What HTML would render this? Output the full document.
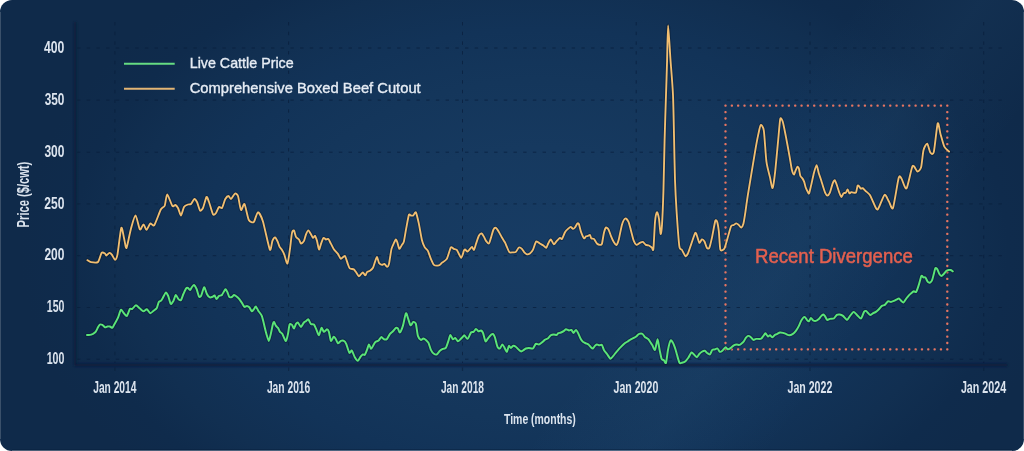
<!DOCTYPE html>
<html><head><meta charset="utf-8"><title>Live Cattle Price vs Comprehensive Boxed Beef Cutout</title>
<style>
html,body{margin:0;padding:0;background:#ffffff;width:1024px;height:451px;overflow:hidden}
svg{display:block}
.cl{font-family:"Liberation Sans",Arial,sans-serif;font-weight:bold;fill:#dce4ee}
.lg{font-family:"Liberation Sans",Arial,sans-serif;fill:#e6ecf4}
</style></head><body>
<svg width="1024" height="451" viewBox="0 0 1024 451">
<defs>
<radialGradient id="bg" cx="540" cy="250" r="520" gradientUnits="userSpaceOnUse" gradientTransform="translate(540 250) scale(1 0.654) translate(-540 -250)">
<stop offset="0" stop-color="#173c64"/>
<stop offset="0.3" stop-color="#16395f"/>
<stop offset="0.5" stop-color="#14365b"/>
<stop offset="0.65" stop-color="#123358"/>
<stop offset="0.8" stop-color="#112f51"/>
<stop offset="0.9" stop-color="#0f2b4c"/>
<stop offset="1" stop-color="#0f2a4a"/>
</radialGradient>
<linearGradient id="band" gradientUnits="userSpaceOnUse" x1="734" y1="166" x2="894" y2="285">
<stop offset="0" stop-color="#5aa0d0" stop-opacity="0"/>
<stop offset="0.5" stop-color="#5aa0d0" stop-opacity="0.05"/>
<stop offset="1" stop-color="#5aa0d0" stop-opacity="0"/>
</linearGradient>
<filter id="soft" x="-5%" y="-5%" width="110%" height="110%"><feGaussianBlur stdDeviation="0.8"/></filter>
</defs>
<rect x="0" y="0" width="1024" height="451" rx="12" ry="12" fill="url(#bg)"/>
<rect x="0" y="0" width="1024" height="451" rx="12" ry="12" fill="url(#band)"/>
<line x1="0.5" y1="12" x2="0.5" y2="439" stroke="#ffffff" stroke-opacity="0.18"/>
<line x1="1023.5" y1="12" x2="1023.5" y2="439" stroke="#ffffff" stroke-opacity="0.18"/>
<line x1="12" y1="450.5" x2="1012" y2="450.5" stroke="#ffffff" stroke-opacity="0.25"/>
<line x1="12" y1="449.5" x2="1012" y2="449.5" stroke="#08203e" stroke-opacity="0.5"/>
<g stroke="#0a1f3c" stroke-opacity="0.75" stroke-width="1" stroke-dasharray="3.4 6.3"><line x1="77" y1="48.0" x2="1007" y2="48.0"/><line x1="77" y1="100.1" x2="1007" y2="100.1"/><line x1="77" y1="152.2" x2="1007" y2="152.2"/><line x1="77" y1="203.9" x2="1007" y2="203.9"/><line x1="77" y1="255.7" x2="1007" y2="255.7"/><line x1="77" y1="307.5" x2="1007" y2="307.5"/><line x1="77" y1="359.2" x2="1007" y2="359.2"/><line x1="114.9" y1="22" x2="114.9" y2="363"/><line x1="288.6" y1="22" x2="288.6" y2="363"/><line x1="462.5" y1="22" x2="462.5" y2="363"/><line x1="636.2" y1="22" x2="636.2" y2="363"/><line x1="810.0" y1="22" x2="810.0" y2="363"/><line x1="983.7" y1="22" x2="983.7" y2="363"/></g>
<g stroke="#0a1f3b" stroke-width="2.5" filter="url(#soft)"><line x1="75.2" y1="22" x2="75.2" y2="366"/><line x1="74" y1="365.1" x2="1007.5" y2="365.1"/></g>
<g stroke="#0a1f3b" stroke-opacity="0.6" stroke-width="1.2"><line x1="114.9" y1="367.5" x2="114.9" y2="371"/><line x1="288.6" y1="367.5" x2="288.6" y2="371"/><line x1="462.5" y1="367.5" x2="462.5" y2="371"/><line x1="636.2" y1="367.5" x2="636.2" y2="371"/><line x1="810.0" y1="367.5" x2="810.0" y2="371"/><line x1="983.7" y1="367.5" x2="983.7" y2="371"/></g>
<text class="cl" x="64.4" y="52.9" font-size="15.6" text-anchor="end" textLength="20.4" lengthAdjust="spacingAndGlyphs">400</text>
<text class="cl" x="64.4" y="105.0" font-size="15.6" text-anchor="end" textLength="19.7" lengthAdjust="spacingAndGlyphs">350</text>
<text class="cl" x="64.4" y="156.8" font-size="15.6" text-anchor="end" textLength="20.0" lengthAdjust="spacingAndGlyphs">300</text>
<text class="cl" x="64.4" y="208.6" font-size="15.6" text-anchor="end" textLength="20.1" lengthAdjust="spacingAndGlyphs">250</text>
<text class="cl" x="64.4" y="260.4" font-size="15.6" text-anchor="end" textLength="20.0" lengthAdjust="spacingAndGlyphs">200</text>
<text class="cl" x="64.4" y="312.4" font-size="15.6" text-anchor="end" textLength="17.6" lengthAdjust="spacingAndGlyphs">150</text>
<text class="cl" x="64.4" y="364.0" font-size="15.6" text-anchor="end" textLength="17.7" lengthAdjust="spacingAndGlyphs">100</text>
<text class="cl" x="93.2" y="393.0" font-size="15.6" textLength="43.2" lengthAdjust="spacingAndGlyphs">Jan 2014</text>
<text class="cl" x="266.9" y="393.0" font-size="15.6" textLength="43.4" lengthAdjust="spacingAndGlyphs">Jan 2016</text>
<text class="cl" x="440.9" y="393.0" font-size="15.6" textLength="43.1" lengthAdjust="spacingAndGlyphs">Jan 2018</text>
<text class="cl" x="613.5" y="393.0" font-size="15.6" textLength="44.8" lengthAdjust="spacingAndGlyphs">Jan 2020</text>
<text class="cl" x="787.5" y="393.0" font-size="15.6" textLength="44.8" lengthAdjust="spacingAndGlyphs">Jan 2022</text>
<text class="cl" x="960.9" y="393.0" font-size="15.6" textLength="45.2" lengthAdjust="spacingAndGlyphs">Jan 2024</text>
<text class="cl" x="504.0" y="423.9" font-size="15.2" textLength="71.8" lengthAdjust="spacingAndGlyphs">Time (months)</text>
<text class="cl" transform="translate(28.9 227.4) rotate(-90)" x="0" y="0" font-size="15.6" textLength="65.7" lengthAdjust="spacingAndGlyphs">Price ($/cwt)</text>
<line x1="124" y1="63.7" x2="174.7" y2="63.7" stroke="#66dc82" stroke-width="2"/>
<line x1="124" y1="88.7" x2="174.7" y2="88.7" stroke="#e3b574" stroke-width="2"/>
<text class="lg" stroke="#e6ecf4" stroke-width="0.35" x="189.7" y="68.3" font-size="14.3" textLength="104" lengthAdjust="spacingAndGlyphs">Live Cattle Price</text>
<text class="lg" stroke="#e6ecf4" stroke-width="0.35" x="189.7" y="93.3" font-size="14.3" textLength="231" lengthAdjust="spacingAndGlyphs">Comprehensive Boxed Beef Cutout</text>
<g fill="#e57562"><rect x="724.35" y="104.50" width="2.3" height="2.3" rx="0.8"/><rect x="724.35" y="348.25" width="2.3" height="2.3" rx="0.8"/><rect x="730.69" y="104.50" width="2.3" height="2.3" rx="0.8"/><rect x="730.69" y="348.25" width="2.3" height="2.3" rx="0.8"/><rect x="737.02" y="104.50" width="2.3" height="2.3" rx="0.8"/><rect x="737.02" y="348.25" width="2.3" height="2.3" rx="0.8"/><rect x="743.36" y="104.50" width="2.3" height="2.3" rx="0.8"/><rect x="743.36" y="348.25" width="2.3" height="2.3" rx="0.8"/><rect x="749.70" y="104.50" width="2.3" height="2.3" rx="0.8"/><rect x="749.70" y="348.25" width="2.3" height="2.3" rx="0.8"/><rect x="756.04" y="104.50" width="2.3" height="2.3" rx="0.8"/><rect x="756.04" y="348.25" width="2.3" height="2.3" rx="0.8"/><rect x="762.37" y="104.50" width="2.3" height="2.3" rx="0.8"/><rect x="762.37" y="348.25" width="2.3" height="2.3" rx="0.8"/><rect x="768.71" y="104.50" width="2.3" height="2.3" rx="0.8"/><rect x="768.71" y="348.25" width="2.3" height="2.3" rx="0.8"/><rect x="775.05" y="104.50" width="2.3" height="2.3" rx="0.8"/><rect x="775.05" y="348.25" width="2.3" height="2.3" rx="0.8"/><rect x="781.38" y="104.50" width="2.3" height="2.3" rx="0.8"/><rect x="781.38" y="348.25" width="2.3" height="2.3" rx="0.8"/><rect x="787.72" y="104.50" width="2.3" height="2.3" rx="0.8"/><rect x="787.72" y="348.25" width="2.3" height="2.3" rx="0.8"/><rect x="794.06" y="104.50" width="2.3" height="2.3" rx="0.8"/><rect x="794.06" y="348.25" width="2.3" height="2.3" rx="0.8"/><rect x="800.40" y="104.50" width="2.3" height="2.3" rx="0.8"/><rect x="800.40" y="348.25" width="2.3" height="2.3" rx="0.8"/><rect x="806.73" y="104.50" width="2.3" height="2.3" rx="0.8"/><rect x="806.73" y="348.25" width="2.3" height="2.3" rx="0.8"/><rect x="813.07" y="104.50" width="2.3" height="2.3" rx="0.8"/><rect x="813.07" y="348.25" width="2.3" height="2.3" rx="0.8"/><rect x="819.41" y="104.50" width="2.3" height="2.3" rx="0.8"/><rect x="819.41" y="348.25" width="2.3" height="2.3" rx="0.8"/><rect x="825.74" y="104.50" width="2.3" height="2.3" rx="0.8"/><rect x="825.74" y="348.25" width="2.3" height="2.3" rx="0.8"/><rect x="832.08" y="104.50" width="2.3" height="2.3" rx="0.8"/><rect x="832.08" y="348.25" width="2.3" height="2.3" rx="0.8"/><rect x="838.42" y="104.50" width="2.3" height="2.3" rx="0.8"/><rect x="838.42" y="348.25" width="2.3" height="2.3" rx="0.8"/><rect x="844.76" y="104.50" width="2.3" height="2.3" rx="0.8"/><rect x="844.76" y="348.25" width="2.3" height="2.3" rx="0.8"/><rect x="851.09" y="104.50" width="2.3" height="2.3" rx="0.8"/><rect x="851.09" y="348.25" width="2.3" height="2.3" rx="0.8"/><rect x="857.43" y="104.50" width="2.3" height="2.3" rx="0.8"/><rect x="857.43" y="348.25" width="2.3" height="2.3" rx="0.8"/><rect x="863.77" y="104.50" width="2.3" height="2.3" rx="0.8"/><rect x="863.77" y="348.25" width="2.3" height="2.3" rx="0.8"/><rect x="870.10" y="104.50" width="2.3" height="2.3" rx="0.8"/><rect x="870.10" y="348.25" width="2.3" height="2.3" rx="0.8"/><rect x="876.44" y="104.50" width="2.3" height="2.3" rx="0.8"/><rect x="876.44" y="348.25" width="2.3" height="2.3" rx="0.8"/><rect x="882.78" y="104.50" width="2.3" height="2.3" rx="0.8"/><rect x="882.78" y="348.25" width="2.3" height="2.3" rx="0.8"/><rect x="889.12" y="104.50" width="2.3" height="2.3" rx="0.8"/><rect x="889.12" y="348.25" width="2.3" height="2.3" rx="0.8"/><rect x="895.45" y="104.50" width="2.3" height="2.3" rx="0.8"/><rect x="895.45" y="348.25" width="2.3" height="2.3" rx="0.8"/><rect x="901.79" y="104.50" width="2.3" height="2.3" rx="0.8"/><rect x="901.79" y="348.25" width="2.3" height="2.3" rx="0.8"/><rect x="908.13" y="104.50" width="2.3" height="2.3" rx="0.8"/><rect x="908.13" y="348.25" width="2.3" height="2.3" rx="0.8"/><rect x="914.46" y="104.50" width="2.3" height="2.3" rx="0.8"/><rect x="914.46" y="348.25" width="2.3" height="2.3" rx="0.8"/><rect x="920.80" y="104.50" width="2.3" height="2.3" rx="0.8"/><rect x="920.80" y="348.25" width="2.3" height="2.3" rx="0.8"/><rect x="927.14" y="104.50" width="2.3" height="2.3" rx="0.8"/><rect x="927.14" y="348.25" width="2.3" height="2.3" rx="0.8"/><rect x="933.48" y="104.50" width="2.3" height="2.3" rx="0.8"/><rect x="933.48" y="348.25" width="2.3" height="2.3" rx="0.8"/><rect x="939.81" y="104.50" width="2.3" height="2.3" rx="0.8"/><rect x="939.81" y="348.25" width="2.3" height="2.3" rx="0.8"/><rect x="946.15" y="104.50" width="2.3" height="2.3" rx="0.8"/><rect x="946.15" y="348.25" width="2.3" height="2.3" rx="0.8"/><rect x="724.35" y="110.91" width="2.3" height="2.3" rx="0.8"/><rect x="946.15" y="110.91" width="2.3" height="2.3" rx="0.8"/><rect x="724.35" y="117.33" width="2.3" height="2.3" rx="0.8"/><rect x="946.15" y="117.33" width="2.3" height="2.3" rx="0.8"/><rect x="724.35" y="123.74" width="2.3" height="2.3" rx="0.8"/><rect x="946.15" y="123.74" width="2.3" height="2.3" rx="0.8"/><rect x="724.35" y="130.16" width="2.3" height="2.3" rx="0.8"/><rect x="946.15" y="130.16" width="2.3" height="2.3" rx="0.8"/><rect x="724.35" y="136.57" width="2.3" height="2.3" rx="0.8"/><rect x="946.15" y="136.57" width="2.3" height="2.3" rx="0.8"/><rect x="724.35" y="142.99" width="2.3" height="2.3" rx="0.8"/><rect x="946.15" y="142.99" width="2.3" height="2.3" rx="0.8"/><rect x="724.35" y="149.40" width="2.3" height="2.3" rx="0.8"/><rect x="946.15" y="149.40" width="2.3" height="2.3" rx="0.8"/><rect x="724.35" y="155.82" width="2.3" height="2.3" rx="0.8"/><rect x="946.15" y="155.82" width="2.3" height="2.3" rx="0.8"/><rect x="724.35" y="162.23" width="2.3" height="2.3" rx="0.8"/><rect x="946.15" y="162.23" width="2.3" height="2.3" rx="0.8"/><rect x="724.35" y="168.64" width="2.3" height="2.3" rx="0.8"/><rect x="946.15" y="168.64" width="2.3" height="2.3" rx="0.8"/><rect x="724.35" y="175.06" width="2.3" height="2.3" rx="0.8"/><rect x="946.15" y="175.06" width="2.3" height="2.3" rx="0.8"/><rect x="724.35" y="181.47" width="2.3" height="2.3" rx="0.8"/><rect x="946.15" y="181.47" width="2.3" height="2.3" rx="0.8"/><rect x="724.35" y="187.89" width="2.3" height="2.3" rx="0.8"/><rect x="946.15" y="187.89" width="2.3" height="2.3" rx="0.8"/><rect x="724.35" y="194.30" width="2.3" height="2.3" rx="0.8"/><rect x="946.15" y="194.30" width="2.3" height="2.3" rx="0.8"/><rect x="724.35" y="200.72" width="2.3" height="2.3" rx="0.8"/><rect x="946.15" y="200.72" width="2.3" height="2.3" rx="0.8"/><rect x="724.35" y="207.13" width="2.3" height="2.3" rx="0.8"/><rect x="946.15" y="207.13" width="2.3" height="2.3" rx="0.8"/><rect x="724.35" y="213.55" width="2.3" height="2.3" rx="0.8"/><rect x="946.15" y="213.55" width="2.3" height="2.3" rx="0.8"/><rect x="724.35" y="219.96" width="2.3" height="2.3" rx="0.8"/><rect x="946.15" y="219.96" width="2.3" height="2.3" rx="0.8"/><rect x="724.35" y="226.37" width="2.3" height="2.3" rx="0.8"/><rect x="946.15" y="226.37" width="2.3" height="2.3" rx="0.8"/><rect x="724.35" y="232.79" width="2.3" height="2.3" rx="0.8"/><rect x="946.15" y="232.79" width="2.3" height="2.3" rx="0.8"/><rect x="724.35" y="239.20" width="2.3" height="2.3" rx="0.8"/><rect x="946.15" y="239.20" width="2.3" height="2.3" rx="0.8"/><rect x="724.35" y="245.62" width="2.3" height="2.3" rx="0.8"/><rect x="946.15" y="245.62" width="2.3" height="2.3" rx="0.8"/><rect x="724.35" y="252.03" width="2.3" height="2.3" rx="0.8"/><rect x="946.15" y="252.03" width="2.3" height="2.3" rx="0.8"/><rect x="724.35" y="258.45" width="2.3" height="2.3" rx="0.8"/><rect x="946.15" y="258.45" width="2.3" height="2.3" rx="0.8"/><rect x="724.35" y="264.86" width="2.3" height="2.3" rx="0.8"/><rect x="946.15" y="264.86" width="2.3" height="2.3" rx="0.8"/><rect x="724.35" y="271.28" width="2.3" height="2.3" rx="0.8"/><rect x="946.15" y="271.28" width="2.3" height="2.3" rx="0.8"/><rect x="724.35" y="277.69" width="2.3" height="2.3" rx="0.8"/><rect x="946.15" y="277.69" width="2.3" height="2.3" rx="0.8"/><rect x="724.35" y="284.11" width="2.3" height="2.3" rx="0.8"/><rect x="946.15" y="284.11" width="2.3" height="2.3" rx="0.8"/><rect x="724.35" y="290.52" width="2.3" height="2.3" rx="0.8"/><rect x="946.15" y="290.52" width="2.3" height="2.3" rx="0.8"/><rect x="724.35" y="296.93" width="2.3" height="2.3" rx="0.8"/><rect x="946.15" y="296.93" width="2.3" height="2.3" rx="0.8"/><rect x="724.35" y="303.35" width="2.3" height="2.3" rx="0.8"/><rect x="946.15" y="303.35" width="2.3" height="2.3" rx="0.8"/><rect x="724.35" y="309.76" width="2.3" height="2.3" rx="0.8"/><rect x="946.15" y="309.76" width="2.3" height="2.3" rx="0.8"/><rect x="724.35" y="316.18" width="2.3" height="2.3" rx="0.8"/><rect x="946.15" y="316.18" width="2.3" height="2.3" rx="0.8"/><rect x="724.35" y="322.59" width="2.3" height="2.3" rx="0.8"/><rect x="946.15" y="322.59" width="2.3" height="2.3" rx="0.8"/><rect x="724.35" y="329.01" width="2.3" height="2.3" rx="0.8"/><rect x="946.15" y="329.01" width="2.3" height="2.3" rx="0.8"/><rect x="724.35" y="335.42" width="2.3" height="2.3" rx="0.8"/><rect x="946.15" y="335.42" width="2.3" height="2.3" rx="0.8"/><rect x="724.35" y="341.84" width="2.3" height="2.3" rx="0.8"/><rect x="946.15" y="341.84" width="2.3" height="2.3" rx="0.8"/></g>
<text x="755.0" y="263.4" font-size="19.6" fill="#e4604f" stroke="#e4604f" stroke-width="0.5" font-family="Liberation Sans,Arial,sans-serif" textLength="157.8" lengthAdjust="spacingAndGlyphs">Recent Divergence</text>
<path d="M87.4,260.2C87.8,260.4 89.8,262.0 91.0,262.2C92.2,262.4 96.8,263.1 98.0,262.0C99.2,260.9 100.8,253.9 101.6,252.9C102.4,251.9 104.5,253.2 105.0,253.5C105.5,253.8 105.8,255.6 106.3,255.5C106.8,255.4 108.8,253.0 109.5,252.9C110.2,252.8 111.4,254.1 112.0,254.9C112.6,255.7 114.4,259.9 115.0,259.8C115.6,259.7 116.8,258.0 117.5,254.3C118.2,250.6 120.5,229.8 121.3,227.9C122.1,226.0 123.4,235.6 124.0,237.9C124.6,240.2 125.7,249.0 126.5,247.9C127.3,246.8 129.8,232.7 130.9,228.9C132.0,225.1 134.4,215.4 135.5,215.5C136.6,215.6 139.0,228.5 139.9,229.5C140.8,230.5 142.7,224.3 143.5,224.3C144.3,224.3 145.7,230.0 146.5,229.9C147.3,229.8 149.4,224.1 150.3,223.5C151.2,222.9 153.1,226.7 154.3,225.1C155.5,223.5 159.6,211.8 160.8,209.5C162.0,207.2 164.1,207.3 164.8,205.5C165.5,203.7 166.3,194.3 167.2,194.4C168.1,194.5 171.4,204.8 172.4,206.0C173.4,207.2 174.7,204.8 175.4,205.0C176.1,205.2 177.3,206.8 178.0,208.0C178.7,209.2 180.3,215.6 181.0,215.5C181.7,215.4 183.2,208.3 184.0,207.0C184.8,205.7 187.2,204.8 188.0,204.5C188.8,204.2 190.3,204.6 191.0,204.0C191.7,203.4 193.7,199.2 194.4,199.0C195.1,198.8 196.3,200.7 197.0,202.0C197.7,203.3 199.3,209.8 200.0,210.5C200.7,211.2 202.2,209.6 203.0,208.0C203.8,206.4 205.8,197.7 206.5,197.0C207.2,196.3 208.2,200.0 209.0,202.0C209.8,204.0 212.2,213.0 213.0,214.3C213.8,215.6 215.3,213.9 216.0,213.0C216.7,212.1 218.3,207.6 219.0,207.0C219.7,206.4 221.3,208.9 222.0,208.0C222.7,207.1 224.5,200.4 225.3,199.0C226.1,197.6 227.8,196.0 228.5,196.0C229.2,196.0 230.2,199.3 231.0,199.0C231.8,198.7 234.2,193.9 235.0,193.6C235.8,193.2 237.3,194.1 238.0,196.0C238.7,197.9 240.2,209.1 241.0,210.0C241.8,210.9 243.6,202.8 244.5,204.0C245.4,205.2 247.7,217.9 248.8,220.0C249.9,222.1 252.8,222.9 253.8,222.0C254.9,221.1 256.8,212.4 257.8,212.3C258.9,212.2 261.4,216.7 262.8,221.0C264.2,225.3 268.7,247.2 269.8,249.5C270.9,251.8 271.8,242.3 272.4,240.9C273.0,239.5 274.4,237.4 275.0,237.5C275.6,237.6 277.1,240.4 277.6,241.5C278.1,242.6 279.1,245.9 279.6,246.9C280.1,247.9 281.4,249.0 282.0,249.9C282.6,250.8 283.8,253.3 284.4,254.9C285.0,256.5 286.7,264.2 287.4,263.5C288.1,262.8 289.5,252.5 290.0,248.9C290.5,245.3 291.5,235.0 292.0,232.9C292.5,230.8 293.5,230.0 294.0,230.5C294.5,231.0 295.4,235.8 296.0,236.9C296.6,238.0 298.4,238.7 299.0,239.5C299.6,240.3 300.4,243.3 301.0,243.5C301.6,243.7 303.4,242.0 304.0,240.9C304.6,239.8 305.5,235.5 306.0,234.3C306.5,233.1 307.7,230.3 308.3,230.3C308.9,230.3 310.5,233.4 311.0,234.3C311.5,235.2 312.5,237.7 313.0,237.9C313.5,238.1 314.5,235.6 315.0,235.9C315.5,236.2 316.5,239.3 317.0,240.9C317.5,242.5 318.5,249.2 319.0,249.5C319.5,249.8 320.5,245.3 321.0,243.9C321.5,242.5 322.9,238.4 323.5,237.9C324.1,237.4 325.4,239.4 326.0,239.5C326.6,239.6 327.7,238.4 328.3,238.9C328.9,239.4 330.3,242.7 331.0,243.9C331.7,245.1 333.2,248.3 334.0,249.5C334.8,250.7 337.1,252.8 337.9,253.9C338.7,255.0 340.1,258.7 340.9,258.9C341.7,259.1 344.1,255.3 344.9,255.9C345.7,256.5 347.2,262.4 347.8,263.9C348.4,265.4 349.1,267.8 349.8,268.4C350.5,269.0 353.1,269.0 353.8,269.4C354.5,269.8 355.2,271.0 355.8,271.8C356.4,272.6 358.2,275.9 358.8,276.2C359.4,276.5 360.3,274.8 360.8,274.4C361.3,274.0 362.3,272.3 362.8,272.4C363.3,272.5 364.9,275.4 365.4,275.4C365.9,275.4 366.5,272.7 367.0,272.2C367.5,271.7 369.3,271.3 370.0,270.8C370.7,270.3 372.4,268.8 373.0,267.8C373.6,266.8 374.5,263.2 375.0,261.9C375.5,260.6 376.5,256.8 377.0,256.9C377.5,257.0 378.4,262.0 379.0,262.9C379.6,263.8 381.4,264.8 382.0,264.9C382.6,265.0 383.8,263.7 384.4,263.9C385.0,264.1 386.5,266.8 387.0,266.8C387.5,266.8 388.5,266.0 389.0,263.9C389.5,261.8 390.9,251.3 391.5,248.9C392.1,246.5 393.5,244.0 394.0,242.9C394.5,241.8 395.6,239.6 396.0,239.5C396.4,239.4 396.9,241.2 397.3,242.3C397.7,243.4 398.8,248.6 399.3,248.9C399.8,249.2 401.4,245.8 401.9,244.9C402.4,244.0 403.4,243.5 403.9,241.5C404.4,239.5 405.7,231.0 406.3,227.9C406.9,224.8 408.4,216.3 408.9,214.9C409.4,213.5 410.4,215.4 410.9,215.5C411.4,215.6 412.7,215.9 413.3,215.5C413.9,215.1 415.2,211.4 415.9,212.4C416.6,213.4 418.2,220.7 418.9,223.9C419.6,227.1 421.2,237.2 421.9,239.9C422.6,242.6 423.8,245.6 424.5,246.9C425.2,248.2 427.2,249.5 427.9,250.9C428.6,252.3 430.2,257.3 430.9,258.9C431.6,260.5 433.0,264.1 433.9,264.9C434.8,265.7 438.0,265.6 438.9,265.4C439.8,265.2 440.9,263.7 441.8,262.9C442.7,262.1 445.8,260.7 446.8,258.9C447.9,257.1 450.0,248.7 450.8,247.5C451.6,246.3 453.1,248.6 453.8,248.9C454.5,249.2 455.9,248.9 456.8,249.9C457.7,250.9 460.4,257.8 461.2,257.9C462.0,258.0 463.4,251.9 463.8,250.9C464.2,249.9 464.6,249.4 465.0,249.5C465.4,249.6 467.0,251.6 467.6,251.5C468.2,251.4 469.5,249.4 470.0,248.9C470.5,248.4 471.5,246.8 472.0,246.9C472.5,247.0 473.5,250.2 474.0,249.9C474.5,249.6 475.4,245.6 476.0,243.9C476.6,242.2 478.3,236.7 479.0,235.5C479.7,234.3 481.0,233.3 481.6,233.5C482.2,233.7 483.5,236.0 484.0,236.9C484.5,237.8 485.4,240.1 486.0,240.9C486.6,241.7 488.3,243.8 488.9,243.5C489.5,243.2 490.4,239.5 490.9,237.9C491.4,236.3 492.9,230.7 493.5,229.5C494.1,228.3 495.3,227.6 495.9,227.9C496.5,228.2 498.2,230.8 498.9,231.9C499.6,233.0 501.2,236.3 501.9,237.5C502.6,238.7 504.3,241.2 504.9,242.3C505.5,243.4 506.4,245.7 506.9,246.9C507.4,248.1 508.8,251.7 509.5,252.3C510.2,252.9 512.2,252.3 512.9,252.3C513.6,252.3 515.2,252.5 515.9,251.9C516.6,251.3 518.2,247.8 518.9,247.5C519.6,247.2 521.3,248.3 521.9,248.9C522.5,249.5 523.7,251.7 524.3,252.3C524.9,252.9 526.2,254.2 526.9,254.3C527.6,254.4 529.2,254.0 529.9,253.5C530.6,253.0 532.2,251.3 532.9,249.9C533.6,248.5 535.4,242.2 536.2,241.5C537.0,240.8 539.0,243.0 539.8,243.5C540.6,244.0 542.7,245.0 543.4,245.5C544.1,246.0 545.6,248.1 546.2,247.9C546.8,247.7 547.7,244.5 548.2,243.5C548.7,242.5 550.1,239.4 550.8,239.5C551.5,239.6 553.1,244.1 553.8,244.3C554.5,244.5 556.1,241.6 556.8,240.9C557.5,240.2 559.4,238.1 560.0,237.9C560.6,237.7 561.4,239.6 562.0,238.9C562.6,238.2 564.3,233.5 565.0,232.3C565.7,231.1 567.3,229.5 568.0,228.9C568.7,228.3 570.0,226.9 570.6,226.9C571.2,226.9 572.5,228.8 573.0,228.9C573.5,229.0 574.5,228.1 575.0,227.5C575.5,226.9 576.9,223.9 577.4,223.5C577.9,223.1 578.6,223.3 579.0,224.3C579.4,225.3 580.4,230.3 581.0,231.9C581.6,233.5 583.4,237.8 584.0,238.3C584.6,238.8 585.5,236.6 586.0,236.3C586.5,236.0 587.5,236.1 588.0,235.9C588.5,235.7 589.6,234.6 590.0,234.9C590.4,235.2 590.8,237.8 591.3,238.3C591.8,238.8 593.2,238.3 593.9,238.9C594.6,239.5 596.2,242.8 596.9,243.5C597.6,244.2 599.3,244.9 599.9,244.9C600.5,244.9 601.4,245.3 601.9,243.9C602.4,242.5 603.4,234.8 603.9,232.9C604.4,231.0 605.4,227.9 605.9,227.5C606.4,227.1 607.9,228.5 608.5,229.5C609.1,230.5 610.3,234.4 610.9,235.9C611.5,237.4 613.2,241.2 613.9,242.3C614.6,243.4 615.9,245.3 616.5,244.9C617.1,244.5 618.3,241.2 618.9,238.9C619.5,236.6 621.2,227.3 621.9,224.9C622.6,222.5 624.5,218.8 625.3,218.5C626.1,218.2 627.9,220.6 628.5,221.9C629.1,223.2 630.2,227.7 630.8,229.9C631.4,232.1 633.1,239.2 633.8,240.9C634.5,242.7 635.7,244.7 636.4,244.9C637.1,245.1 639.1,243.2 639.8,242.9C640.5,242.6 642.1,241.7 642.8,241.9C643.5,242.1 645.1,244.5 645.8,244.9C646.5,245.3 648.1,245.2 648.8,245.5C649.5,245.8 651.3,247.1 651.8,247.5C652.3,247.9 653.0,251.9 653.4,248.9C653.8,245.9 654.6,226.2 655.0,221.9C655.4,217.6 656.5,212.7 657.0,212.3C657.5,212.0 658.6,216.4 659.0,218.9C659.4,221.4 660.2,233.2 660.6,233.9C661.0,234.6 661.7,229.8 662.0,224.9C662.3,220.0 663.1,201.9 663.4,192.0C663.7,182.1 664.3,151.3 664.6,140.0C664.9,128.7 665.7,104.3 666.0,95.0C666.3,85.7 666.9,68.1 667.1,60.0C667.3,51.9 667.7,25.3 668.1,25.3C668.5,25.3 669.9,51.9 670.5,60.0C671.1,68.1 672.6,85.7 673.0,95.0C673.4,104.3 673.9,130.1 674.1,140.0C674.3,149.9 674.7,171.8 675.0,180.0C675.3,188.2 676.0,202.3 676.5,210.0C677.0,217.7 678.7,241.2 679.3,245.9C679.9,250.6 681.2,248.7 681.9,249.9C682.6,251.1 684.8,255.8 685.5,256.2C686.2,256.6 687.2,254.9 687.9,253.5C688.6,252.1 690.4,246.3 691.3,243.9C692.2,241.5 694.6,233.7 695.3,232.9C696.0,232.1 696.8,235.7 697.3,236.9C697.8,238.1 698.8,242.6 699.3,242.9C699.8,243.2 701.3,239.7 701.9,239.5C702.5,239.3 703.9,240.5 704.5,241.5C705.1,242.5 706.3,247.2 706.9,247.9C707.5,248.6 708.7,249.1 709.3,247.9C709.9,246.7 711.2,241.1 711.9,237.9C712.6,234.8 714.7,222.7 715.3,220.9C715.9,219.1 716.9,221.0 717.3,222.3C717.7,223.6 718.5,228.7 718.9,231.9C719.2,235.1 719.8,247.3 720.3,249.4C720.8,251.5 722.5,250.1 723.0,249.9C723.5,249.7 724.3,248.9 724.8,247.6C725.3,246.3 726.7,241.3 727.4,238.8C728.1,236.3 730.3,227.9 731.0,226.3C731.7,224.7 733.0,225.4 733.6,225.1C734.2,224.8 735.7,223.3 736.3,223.3C736.9,223.3 738.3,224.6 738.9,225.1C739.5,225.6 740.7,227.8 741.2,227.6C741.7,227.4 742.9,225.6 743.4,223.7C743.9,221.8 745.0,214.6 745.5,211.3C746.0,208.0 746.7,202.1 747.8,195.3C748.9,188.5 753.7,159.8 754.9,152.6C756.1,145.4 757.7,137.1 758.4,133.9C759.1,130.7 760.1,125.4 760.7,125.0C761.3,124.6 763.1,126.2 763.8,130.4C764.5,134.6 765.7,155.9 766.4,161.4C767.1,166.9 769.3,174.3 770.0,177.4C770.7,180.5 772.0,188.8 772.6,188.0C773.2,187.2 774.7,175.7 775.3,170.3C775.9,164.9 777.4,147.9 778.0,141.9C778.6,135.9 779.7,121.6 780.2,119.2C780.7,116.8 782.0,119.5 782.7,121.5C783.4,123.5 785.1,132.6 785.9,136.6C786.7,140.6 788.8,152.3 789.5,156.1C790.2,159.9 791.3,167.4 791.8,169.5C792.3,171.6 793.5,174.3 793.9,174.5C794.3,174.7 794.9,172.2 795.3,171.3C795.7,170.4 797.0,167.1 797.4,166.8C797.8,166.5 798.6,167.6 798.9,168.6C799.2,169.6 799.9,174.6 800.3,175.7C800.7,176.8 801.9,177.7 802.4,178.4C802.9,179.1 803.8,180.9 804.2,181.9C804.6,182.9 805.2,186.1 805.6,187.2C806.0,188.3 807.3,191.0 807.7,191.7C808.1,192.4 808.7,194.2 809.1,193.4C809.5,192.6 810.7,187.0 811.3,184.6C811.9,182.2 813.3,175.3 813.9,173.0C814.5,170.7 816.0,165.1 816.6,165.1C817.2,165.1 818.2,171.3 818.7,173.0C819.2,174.7 820.5,178.1 821.0,179.8C821.5,181.5 822.8,185.6 823.3,187.2C823.8,188.8 825.0,192.4 825.5,193.4C826.0,194.4 826.7,195.8 827.2,195.7C827.7,195.6 829.3,194.0 829.9,192.6C830.5,191.2 832.0,185.2 832.6,183.7C833.2,182.2 834.2,179.9 834.7,180.1C835.2,180.3 836.5,184.0 837.0,185.5C837.5,187.0 838.8,191.3 839.3,192.6C839.8,193.9 840.9,196.9 841.4,197.0C841.9,197.1 843.0,193.9 843.5,193.4C844.0,192.9 845.4,193.1 845.9,192.6C846.4,192.1 847.2,189.3 847.6,189.4C848.0,189.5 849.0,193.1 849.4,193.4C849.8,193.7 850.7,192.3 851.2,192.2C851.7,192.1 852.9,192.6 853.5,192.6C854.1,192.6 855.5,193.4 856.0,192.6C856.5,191.8 857.3,186.2 857.7,185.5C858.1,184.8 859.1,186.5 859.5,186.9C859.9,187.3 860.5,188.6 860.9,188.7C861.3,188.8 862.2,187.9 862.7,188.1C863.2,188.3 864.6,190.0 865.4,190.8C866.2,191.6 869.0,193.5 869.9,194.9C870.8,196.3 872.6,201.0 873.5,202.7C874.4,204.4 876.4,210.4 877.7,209.5C879.0,208.6 883.2,195.8 884.5,194.9C885.8,194.0 887.9,200.0 888.9,201.5C889.9,203.0 891.9,210.8 893.0,208.0C894.1,205.2 897.7,181.2 898.7,177.8C899.7,174.4 900.7,177.6 901.6,178.8C902.5,180.0 905.2,190.0 906.5,188.5C907.8,187.0 911.3,168.1 912.6,166.1C913.9,164.1 916.4,171.4 917.4,171.5C918.4,171.6 920.4,169.8 921.1,167.3C921.8,164.8 922.8,153.0 923.5,150.2C924.2,147.4 926.4,143.4 927.2,143.7C928.0,144.0 929.6,151.7 930.4,152.7C931.2,153.7 932.9,155.4 933.8,152.0C934.7,148.6 936.9,125.5 937.7,123.4C938.5,121.3 939.8,131.7 940.6,134.4C941.4,137.1 943.3,144.6 944.3,146.6C945.3,148.6 948.5,150.9 949.1,151.5" fill="none" stroke="#061428" stroke-opacity="0.35" stroke-width="3.8" stroke-linejoin="round" stroke-linecap="round"/>
<path d="M87.0,334.9C87.3,334.9 89.3,335.0 90.0,334.9C90.7,334.8 92.3,334.2 93.0,333.9C93.7,333.5 95.0,332.7 95.6,331.9C96.2,331.1 97.5,328.2 98.0,327.3C98.5,326.4 99.5,324.8 100.0,324.5C100.5,324.2 101.8,324.6 102.4,324.9C103.0,325.2 104.4,327.1 105.0,327.3C105.6,327.5 106.9,326.6 107.5,326.5C108.1,326.4 109.3,326.3 109.9,326.5C110.5,326.7 111.8,328.1 112.3,327.9C112.8,327.7 113.6,325.7 114.3,324.5C115.0,323.3 117.1,319.6 117.9,317.9C118.7,316.2 120.2,310.4 120.9,309.9C121.6,309.4 123.2,312.6 123.9,313.3C124.6,314.0 126.2,316.4 126.9,315.9C127.6,315.4 129.3,309.7 129.9,308.9C130.5,308.1 131.6,309.3 132.3,308.9C133.0,308.5 135.0,305.3 135.9,305.3C136.8,305.3 139.0,307.8 139.9,308.5C140.8,309.2 142.7,311.2 143.5,311.3C144.3,311.4 146.1,309.1 146.9,309.3C147.7,309.5 149.5,313.2 150.3,313.3C151.1,313.4 153.1,311.1 153.9,310.5C154.7,309.9 156.2,308.9 156.8,307.9C157.4,306.9 158.3,302.7 158.8,301.9C159.3,301.1 160.3,301.4 160.8,300.9C161.3,300.4 162.2,298.9 162.8,297.9C163.4,296.9 165.2,292.8 165.8,292.6C166.4,292.4 167.6,294.7 168.2,296.0C168.8,297.3 170.2,303.3 170.8,303.9C171.4,304.5 172.8,301.9 173.4,300.9C174.0,299.9 175.2,295.2 175.8,295.0C176.4,294.8 178.0,298.8 178.6,299.4C179.2,300.0 180.4,300.6 181.0,300.0C181.6,299.4 182.8,295.3 183.4,294.0C184.0,292.7 185.5,289.3 186.0,288.6C186.5,287.9 187.5,287.8 188.0,288.0C188.5,288.2 189.5,290.1 190.0,290.0C190.5,289.9 191.5,287.6 192.0,287.0C192.5,286.4 193.5,284.8 194.0,285.0C194.5,285.2 196.0,287.6 196.6,289.0C197.2,290.4 198.5,295.8 199.0,296.6C199.5,297.4 200.5,296.8 201.0,296.0C201.5,295.2 202.6,291.0 203.0,290.0C203.4,289.0 204.0,286.9 204.5,287.4C205.0,287.9 206.3,292.8 206.9,294.0C207.5,295.2 209.2,297.1 209.9,297.4C210.6,297.7 212.4,296.8 212.9,296.6C213.4,296.4 214.1,295.1 214.5,295.4C214.9,295.7 216.0,298.9 216.5,299.0C217.0,299.1 218.3,296.5 218.9,296.0C219.5,295.5 221.2,295.8 221.9,295.0C222.6,294.2 224.7,289.8 225.3,289.4C225.9,289.0 226.8,291.1 227.3,292.0C227.8,292.9 228.8,296.4 229.3,297.0C229.8,297.6 231.4,297.2 231.9,297.0C232.4,296.8 233.4,295.1 233.9,295.0C234.4,294.9 235.3,295.6 235.9,296.0C236.5,296.4 238.2,297.8 238.9,298.6C239.6,299.4 241.2,301.9 241.9,302.9C242.6,303.9 243.9,306.5 244.5,306.9C245.1,307.2 246.3,305.9 246.9,305.9C247.5,305.9 248.7,306.7 249.3,307.3C249.9,307.9 251.3,311.1 251.8,311.3C252.3,311.5 253.3,309.9 253.8,309.3C254.3,308.7 255.3,306.3 255.8,306.5C256.3,306.7 257.7,309.8 258.4,310.9C259.1,312.0 261.1,314.1 261.8,315.9C262.5,317.6 263.9,323.8 264.4,325.9C264.9,328.0 265.9,332.1 266.4,333.9C266.9,335.6 268.3,340.9 268.8,340.9C269.3,340.9 270.3,335.8 270.8,333.9C271.3,332.0 272.4,325.9 272.8,324.5C273.2,323.1 273.6,321.7 274.0,321.9C274.4,322.1 275.5,325.2 276.0,325.9C276.5,326.6 277.5,327.2 278.0,327.9C278.5,328.6 279.5,331.2 280.0,331.9C280.5,332.6 281.9,333.1 282.4,333.9C282.9,334.7 284.0,337.7 284.4,338.5C284.8,339.3 285.6,341.4 286.0,340.9C286.4,340.4 287.6,335.8 288.0,333.9C288.4,332.0 289.1,325.6 289.6,324.5C290.1,323.4 291.5,324.4 292.0,324.9C292.5,325.4 293.5,328.6 294.0,328.5C294.5,328.4 295.5,324.6 296.0,323.9C296.5,323.2 297.3,322.1 297.9,322.5C298.5,322.9 300.2,326.9 300.9,326.9C301.6,326.9 303.3,323.2 303.9,322.5C304.5,321.8 305.4,321.7 305.9,321.3C306.4,320.9 307.7,319.0 308.3,319.3C308.9,319.6 310.2,323.3 310.9,323.9C311.6,324.5 313.3,323.9 313.9,324.5C314.5,325.1 315.7,328.0 316.3,329.3C316.9,330.6 318.3,335.5 318.9,335.3C319.5,335.1 320.9,328.3 321.5,327.9C322.1,327.5 323.3,331.7 323.9,331.9C324.5,332.1 326.3,329.3 326.9,329.3C327.5,329.3 328.4,330.5 328.9,331.9C329.4,333.3 330.4,340.3 330.9,340.9C331.4,341.5 333.0,337.2 333.5,336.9C334.0,336.6 335.0,337.8 335.5,338.5C336.0,339.2 337.3,343.0 337.9,343.3C338.5,343.6 340.2,341.2 340.9,340.9C341.6,340.6 343.3,340.5 343.9,340.9C344.5,341.2 345.6,342.5 346.2,343.9C346.8,345.3 348.7,352.0 349.4,352.8C350.1,353.6 351.2,350.0 351.8,350.5C352.4,351.0 354.1,356.0 354.8,357.2C355.5,358.4 357.1,360.9 357.8,360.8C358.5,360.7 360.2,357.1 360.8,356.4C361.4,355.7 362.3,354.6 362.8,354.4C363.3,354.2 364.3,355.3 364.8,354.8C365.3,354.3 366.5,351.1 367.0,349.9C367.5,348.7 368.5,344.6 369.0,344.5C369.5,344.4 370.5,348.7 371.0,348.9C371.5,349.1 372.5,346.7 373.0,345.9C373.5,345.1 374.7,342.5 375.4,341.9C376.1,341.3 377.9,341.1 378.6,340.5C379.3,339.9 380.8,337.0 381.4,336.9C382.0,336.8 383.3,339.1 384.0,339.3C384.7,339.5 386.3,339.5 387.0,338.9C387.7,338.3 389.3,334.8 390.0,333.9C390.7,333.0 392.3,332.0 393.0,331.3C393.7,330.6 395.3,328.2 395.9,327.9C396.5,327.6 397.4,328.0 397.9,328.5C398.4,329.0 399.3,332.8 399.9,332.5C400.5,332.2 402.2,328.1 402.9,325.9C403.6,323.7 405.3,314.2 405.9,313.3C406.5,312.4 407.4,316.5 407.9,317.9C408.4,319.3 409.9,324.8 410.5,325.3C411.1,325.8 412.7,322.1 413.3,321.9C413.9,321.7 415.4,322.3 415.9,323.9C416.4,325.5 417.3,334.0 417.9,335.9C418.5,337.8 420.3,339.6 420.9,339.9C421.5,340.2 422.7,338.5 423.3,338.5C423.9,338.5 425.3,339.4 425.9,339.9C426.5,340.4 427.9,341.7 428.5,342.9C429.1,344.1 430.3,348.6 430.9,349.9C431.5,351.2 433.2,353.3 433.9,353.8C434.6,354.3 436.2,354.8 436.9,354.4C437.6,354.0 439.2,351.4 439.9,350.8C440.6,350.2 442.1,349.2 442.8,348.9C443.5,348.6 445.1,348.8 445.8,347.9C446.5,347.0 447.9,342.4 448.4,340.9C448.9,339.4 449.9,335.1 450.4,334.9C450.9,334.7 452.2,338.9 452.8,339.3C453.4,339.7 454.6,337.7 455.2,337.9C455.8,338.1 457.2,341.1 457.8,341.3C458.4,341.5 459.9,339.8 460.4,339.3C460.9,338.8 461.9,337.8 462.4,337.3C462.9,336.8 463.8,335.1 464.4,335.3C465.0,335.5 466.8,339.2 467.6,338.9C468.4,338.6 470.3,333.3 471.0,332.5C471.7,331.7 473.0,332.3 473.6,331.9C474.2,331.5 475.4,329.0 476.0,328.9C476.6,328.8 477.8,331.1 478.4,331.3C479.0,331.5 480.5,330.3 481.0,330.5C481.5,330.7 482.5,331.6 483.0,332.9C483.5,334.2 484.9,340.6 485.5,341.3C486.1,342.0 487.3,339.2 487.9,338.5C488.5,337.8 490.3,335.4 490.9,334.9C491.5,334.4 492.4,333.6 492.9,333.9C493.4,334.2 494.4,335.8 494.9,337.3C495.4,338.8 496.9,345.6 497.5,346.9C498.1,348.2 499.3,348.8 499.9,348.5C500.5,348.2 501.8,344.6 502.3,344.5C502.8,344.4 503.8,346.4 504.3,347.3C504.8,348.2 506.4,352.0 506.9,351.8C507.4,351.6 508.4,346.4 508.9,345.9C509.4,345.4 510.4,347.9 510.9,347.9C511.4,347.9 512.4,346.1 512.9,345.9C513.4,345.7 514.9,346.1 515.5,346.5C516.1,346.9 517.3,348.3 517.9,348.9C518.5,349.5 520.3,351.2 520.9,351.4C521.5,351.6 522.3,350.8 522.9,350.5C523.5,350.2 525.2,348.8 525.9,348.5C526.6,348.2 528.1,347.9 528.9,347.9C529.7,347.9 532.1,349.0 532.9,348.5C533.7,348.0 535.1,344.4 535.8,343.9C536.5,343.4 538.1,344.7 538.8,344.5C539.5,344.3 541.1,343.0 541.8,342.5C542.5,342.0 544.1,340.4 544.8,339.9C545.5,339.4 547.1,339.0 547.8,338.5C548.5,338.0 550.1,335.8 550.8,335.3C551.5,334.8 553.1,334.5 553.8,334.5C554.5,334.5 556.3,335.0 556.8,334.9C557.3,334.8 557.5,333.6 558.0,333.3C558.5,333.0 560.3,332.8 561.0,332.5C561.7,332.2 563.4,331.3 564.0,330.9C564.6,330.5 565.4,329.3 566.0,329.3C566.6,329.3 568.4,330.4 569.0,330.5C569.6,330.6 570.9,329.6 571.4,329.9C571.9,330.2 572.9,332.9 573.4,332.9C573.9,332.9 575.5,329.9 576.0,329.9C576.5,329.9 577.5,331.9 578.0,332.9C578.5,333.9 579.9,337.4 580.5,338.5C581.1,339.6 582.4,341.3 583.0,341.9C583.6,342.5 585.3,343.0 585.9,343.3C586.5,343.6 587.9,344.0 588.5,344.5C589.1,345.0 590.4,346.8 590.9,347.3C591.4,347.8 592.4,348.7 592.9,348.5C593.4,348.3 594.4,346.4 594.9,345.9C595.4,345.4 596.4,344.6 596.9,344.5C597.4,344.4 598.7,345.3 599.3,345.3C599.9,345.3 601.4,344.4 601.9,344.9C602.4,345.4 603.3,348.9 603.9,349.9C604.5,350.9 606.1,352.8 606.9,353.8C607.7,354.8 609.8,358.6 610.5,358.8C611.2,359.0 612.6,356.6 613.3,355.8C614.0,355.0 615.7,352.7 616.5,351.8C617.3,350.9 619.0,348.8 619.9,347.9C620.8,347.0 623.0,344.7 623.9,343.9C624.8,343.1 627.1,341.8 627.9,341.3C628.7,340.8 630.1,339.7 630.8,339.3C631.5,338.9 633.1,338.3 633.8,337.9C634.5,337.5 636.2,336.4 636.8,335.9C637.4,335.4 638.5,334.1 639.2,333.9C639.9,333.7 641.7,333.5 642.4,333.9C643.1,334.2 644.1,336.3 644.8,336.9C645.5,337.5 647.7,338.6 648.4,339.3C649.1,340.0 650.3,342.2 650.8,342.9C651.3,343.6 651.9,344.5 652.4,345.3C652.9,346.1 654.4,350.6 655.0,349.9C655.6,349.2 657.1,339.3 657.6,339.3C658.1,339.3 659.1,347.6 659.6,349.9C660.1,352.2 661.1,357.6 661.6,358.8C662.1,360.0 663.5,359.9 664.0,360.4C664.5,360.9 665.5,364.0 666.0,362.8C666.5,361.6 667.5,352.5 668.0,349.9C668.5,347.3 670.0,341.3 670.6,340.5C671.2,339.7 672.5,342.0 673.0,342.9C673.5,343.8 674.5,346.5 675.0,347.9C675.5,349.3 676.5,353.1 677.0,354.8C677.5,356.5 678.9,361.9 679.5,362.8C680.1,363.7 681.2,363.0 681.9,362.8C682.6,362.6 684.8,361.8 685.5,361.2C686.2,360.6 687.6,358.8 688.3,357.8C689.0,356.8 690.8,352.8 691.5,352.4C692.2,352.0 693.3,353.8 693.9,354.4C694.5,355.0 696.2,357.3 696.9,357.2C697.6,357.1 698.9,354.4 699.5,353.8C700.1,353.2 701.3,352.2 701.9,351.8C702.5,351.4 704.3,350.7 704.9,350.8C705.5,350.9 706.3,352.4 706.9,352.8C707.5,353.2 709.3,354.7 709.9,354.4C710.5,354.1 711.7,350.5 712.3,349.9C712.9,349.3 714.3,349.5 714.9,349.3C715.5,349.1 716.9,348.2 717.5,348.5C718.1,348.8 719.3,351.5 719.9,351.8C720.5,352.1 721.7,351.3 722.3,350.8C722.9,350.3 724.8,347.5 725.4,347.3C726.0,347.1 727.2,349.2 727.8,349.3C728.4,349.4 730.1,348.4 730.8,347.9C731.5,347.4 733.1,345.7 733.8,345.3C734.5,344.9 736.1,344.5 736.8,344.5C737.5,344.5 738.8,345.0 739.4,344.9C740.0,344.8 741.3,343.7 741.8,343.3C742.3,342.9 743.3,341.9 743.8,341.3C744.3,340.7 745.3,338.5 745.8,337.9C746.3,337.3 747.4,336.0 748.0,335.9C748.6,335.8 750.0,336.4 750.6,336.9C751.2,337.4 752.8,339.7 753.4,339.9C754.0,340.1 755.3,339.0 756.0,338.9C756.7,338.8 758.4,338.9 759.0,338.9C759.6,338.9 760.9,338.9 761.4,338.5C761.9,338.1 762.9,336.5 763.4,335.9C763.9,335.3 764.9,333.2 765.4,333.3C765.9,333.4 767.5,336.3 768.0,336.5C768.5,336.7 769.5,335.2 770.0,335.3C770.5,335.4 771.9,337.3 772.5,337.3C773.1,337.3 774.3,335.3 774.9,334.9C775.5,334.5 776.7,334.2 777.3,333.9C777.9,333.6 779.2,332.6 779.9,332.5C780.6,332.4 782.2,332.7 782.9,332.9C783.6,333.1 785.2,333.6 785.9,333.9C786.6,334.2 788.5,335.3 789.3,335.3C790.1,335.3 792.1,334.4 792.9,333.9C793.7,333.4 795.2,331.8 795.9,330.9C796.6,330.0 798.3,327.1 798.9,325.9C799.5,324.7 800.6,321.6 801.3,320.5C802.0,319.4 803.8,317.0 804.5,316.9C805.2,316.8 806.4,319.4 806.9,319.9C807.4,320.4 808.4,321.5 808.9,321.3C809.4,321.1 810.4,318.0 810.9,317.9C811.4,317.8 812.7,320.1 813.3,320.5C813.9,320.9 815.3,321.0 815.9,320.9C816.5,320.8 817.9,319.8 818.5,319.3C819.1,318.8 820.3,317.1 820.8,316.5C821.3,315.9 822.7,314.6 823.2,314.5C823.7,314.4 824.3,315.3 824.8,315.9C825.3,316.5 826.6,319.5 827.2,319.9C827.8,320.2 829.0,319.1 829.8,318.9C830.6,318.7 833.0,319.0 833.8,318.5C834.6,318.0 836.1,315.4 836.8,314.9C837.5,314.4 839.1,314.4 839.8,314.5C840.5,314.6 842.2,315.3 843.0,315.9C843.8,316.5 846.2,319.9 847.0,319.9C847.8,319.9 849.2,316.8 850.0,315.9C850.8,315.0 852.8,312.0 853.6,311.9C854.4,311.8 856.1,314.1 857.0,314.9C857.9,315.7 860.2,318.9 861.0,318.5C861.8,318.1 863.4,312.8 864.0,311.9C864.6,311.0 865.5,310.8 866.0,310.9C866.5,311.0 867.5,312.4 868.0,312.9C868.5,313.4 869.7,314.9 870.3,314.9C870.9,314.9 872.2,313.7 872.9,313.3C873.6,312.9 875.2,312.4 875.9,311.9C876.6,311.4 878.2,310.0 878.9,309.3C879.6,308.6 881.2,306.4 881.9,305.9C882.6,305.4 884.2,305.4 884.9,304.9C885.6,304.4 887.2,301.7 887.9,301.3C888.6,300.9 890.2,301.9 890.9,301.9C891.6,301.9 893.2,301.2 893.9,300.9C894.6,300.6 896.3,299.6 896.9,299.3C897.5,299.0 898.4,298.4 898.9,298.5C899.4,298.6 900.4,300.0 900.9,300.5C901.4,301.0 902.9,302.7 903.5,302.5C904.1,302.3 905.7,299.3 906.3,298.5C906.9,297.7 908.3,296.0 908.9,295.3C909.5,294.6 910.9,293.4 911.5,292.9C912.1,292.4 913.4,291.4 913.9,291.3C914.4,291.2 915.6,292.6 916.2,291.9C916.8,291.2 918.2,286.8 918.8,284.9C919.4,283.0 920.9,276.8 921.4,275.9C921.9,275.0 922.9,277.2 923.4,277.4C923.9,277.6 924.9,276.9 925.4,277.4C925.9,277.9 927.2,281.3 927.8,281.9C928.4,282.5 929.7,282.7 930.2,282.5C930.7,282.3 931.8,280.9 932.2,279.9C932.6,278.9 933.4,275.4 933.8,274.0C934.2,272.6 935.0,268.5 935.4,268.0C935.8,267.5 936.9,268.7 937.4,269.4C937.9,270.1 938.9,273.2 939.4,274.0C939.9,274.8 940.9,276.0 941.4,276.0C941.9,276.0 943.2,274.6 943.8,274.0C944.4,273.4 945.6,271.5 946.2,271.0C946.8,270.5 948.3,270.1 948.8,270.0C949.3,269.9 950.3,269.8 950.8,270.0C951.3,270.2 952.6,271.2 952.8,271.4" fill="none" stroke="#061428" stroke-opacity="0.35" stroke-width="4" stroke-linejoin="round" stroke-linecap="round"/>
<path d="M87.4,260.2C87.8,260.4 89.8,262.0 91.0,262.2C92.2,262.4 96.8,263.1 98.0,262.0C99.2,260.9 100.8,253.9 101.6,252.9C102.4,251.9 104.5,253.2 105.0,253.5C105.5,253.8 105.8,255.6 106.3,255.5C106.8,255.4 108.8,253.0 109.5,252.9C110.2,252.8 111.4,254.1 112.0,254.9C112.6,255.7 114.4,259.9 115.0,259.8C115.6,259.7 116.8,258.0 117.5,254.3C118.2,250.6 120.5,229.8 121.3,227.9C122.1,226.0 123.4,235.6 124.0,237.9C124.6,240.2 125.7,249.0 126.5,247.9C127.3,246.8 129.8,232.7 130.9,228.9C132.0,225.1 134.4,215.4 135.5,215.5C136.6,215.6 139.0,228.5 139.9,229.5C140.8,230.5 142.7,224.3 143.5,224.3C144.3,224.3 145.7,230.0 146.5,229.9C147.3,229.8 149.4,224.1 150.3,223.5C151.2,222.9 153.1,226.7 154.3,225.1C155.5,223.5 159.6,211.8 160.8,209.5C162.0,207.2 164.1,207.3 164.8,205.5C165.5,203.7 166.3,194.3 167.2,194.4C168.1,194.5 171.4,204.8 172.4,206.0C173.4,207.2 174.7,204.8 175.4,205.0C176.1,205.2 177.3,206.8 178.0,208.0C178.7,209.2 180.3,215.6 181.0,215.5C181.7,215.4 183.2,208.3 184.0,207.0C184.8,205.7 187.2,204.8 188.0,204.5C188.8,204.2 190.3,204.6 191.0,204.0C191.7,203.4 193.7,199.2 194.4,199.0C195.1,198.8 196.3,200.7 197.0,202.0C197.7,203.3 199.3,209.8 200.0,210.5C200.7,211.2 202.2,209.6 203.0,208.0C203.8,206.4 205.8,197.7 206.5,197.0C207.2,196.3 208.2,200.0 209.0,202.0C209.8,204.0 212.2,213.0 213.0,214.3C213.8,215.6 215.3,213.9 216.0,213.0C216.7,212.1 218.3,207.6 219.0,207.0C219.7,206.4 221.3,208.9 222.0,208.0C222.7,207.1 224.5,200.4 225.3,199.0C226.1,197.6 227.8,196.0 228.5,196.0C229.2,196.0 230.2,199.3 231.0,199.0C231.8,198.7 234.2,193.9 235.0,193.6C235.8,193.2 237.3,194.1 238.0,196.0C238.7,197.9 240.2,209.1 241.0,210.0C241.8,210.9 243.6,202.8 244.5,204.0C245.4,205.2 247.7,217.9 248.8,220.0C249.9,222.1 252.8,222.9 253.8,222.0C254.9,221.1 256.8,212.4 257.8,212.3C258.9,212.2 261.4,216.7 262.8,221.0C264.2,225.3 268.7,247.2 269.8,249.5C270.9,251.8 271.8,242.3 272.4,240.9C273.0,239.5 274.4,237.4 275.0,237.5C275.6,237.6 277.1,240.4 277.6,241.5C278.1,242.6 279.1,245.9 279.6,246.9C280.1,247.9 281.4,249.0 282.0,249.9C282.6,250.8 283.8,253.3 284.4,254.9C285.0,256.5 286.7,264.2 287.4,263.5C288.1,262.8 289.5,252.5 290.0,248.9C290.5,245.3 291.5,235.0 292.0,232.9C292.5,230.8 293.5,230.0 294.0,230.5C294.5,231.0 295.4,235.8 296.0,236.9C296.6,238.0 298.4,238.7 299.0,239.5C299.6,240.3 300.4,243.3 301.0,243.5C301.6,243.7 303.4,242.0 304.0,240.9C304.6,239.8 305.5,235.5 306.0,234.3C306.5,233.1 307.7,230.3 308.3,230.3C308.9,230.3 310.5,233.4 311.0,234.3C311.5,235.2 312.5,237.7 313.0,237.9C313.5,238.1 314.5,235.6 315.0,235.9C315.5,236.2 316.5,239.3 317.0,240.9C317.5,242.5 318.5,249.2 319.0,249.5C319.5,249.8 320.5,245.3 321.0,243.9C321.5,242.5 322.9,238.4 323.5,237.9C324.1,237.4 325.4,239.4 326.0,239.5C326.6,239.6 327.7,238.4 328.3,238.9C328.9,239.4 330.3,242.7 331.0,243.9C331.7,245.1 333.2,248.3 334.0,249.5C334.8,250.7 337.1,252.8 337.9,253.9C338.7,255.0 340.1,258.7 340.9,258.9C341.7,259.1 344.1,255.3 344.9,255.9C345.7,256.5 347.2,262.4 347.8,263.9C348.4,265.4 349.1,267.8 349.8,268.4C350.5,269.0 353.1,269.0 353.8,269.4C354.5,269.8 355.2,271.0 355.8,271.8C356.4,272.6 358.2,275.9 358.8,276.2C359.4,276.5 360.3,274.8 360.8,274.4C361.3,274.0 362.3,272.3 362.8,272.4C363.3,272.5 364.9,275.4 365.4,275.4C365.9,275.4 366.5,272.7 367.0,272.2C367.5,271.7 369.3,271.3 370.0,270.8C370.7,270.3 372.4,268.8 373.0,267.8C373.6,266.8 374.5,263.2 375.0,261.9C375.5,260.6 376.5,256.8 377.0,256.9C377.5,257.0 378.4,262.0 379.0,262.9C379.6,263.8 381.4,264.8 382.0,264.9C382.6,265.0 383.8,263.7 384.4,263.9C385.0,264.1 386.5,266.8 387.0,266.8C387.5,266.8 388.5,266.0 389.0,263.9C389.5,261.8 390.9,251.3 391.5,248.9C392.1,246.5 393.5,244.0 394.0,242.9C394.5,241.8 395.6,239.6 396.0,239.5C396.4,239.4 396.9,241.2 397.3,242.3C397.7,243.4 398.8,248.6 399.3,248.9C399.8,249.2 401.4,245.8 401.9,244.9C402.4,244.0 403.4,243.5 403.9,241.5C404.4,239.5 405.7,231.0 406.3,227.9C406.9,224.8 408.4,216.3 408.9,214.9C409.4,213.5 410.4,215.4 410.9,215.5C411.4,215.6 412.7,215.9 413.3,215.5C413.9,215.1 415.2,211.4 415.9,212.4C416.6,213.4 418.2,220.7 418.9,223.9C419.6,227.1 421.2,237.2 421.9,239.9C422.6,242.6 423.8,245.6 424.5,246.9C425.2,248.2 427.2,249.5 427.9,250.9C428.6,252.3 430.2,257.3 430.9,258.9C431.6,260.5 433.0,264.1 433.9,264.9C434.8,265.7 438.0,265.6 438.9,265.4C439.8,265.2 440.9,263.7 441.8,262.9C442.7,262.1 445.8,260.7 446.8,258.9C447.9,257.1 450.0,248.7 450.8,247.5C451.6,246.3 453.1,248.6 453.8,248.9C454.5,249.2 455.9,248.9 456.8,249.9C457.7,250.9 460.4,257.8 461.2,257.9C462.0,258.0 463.4,251.9 463.8,250.9C464.2,249.9 464.6,249.4 465.0,249.5C465.4,249.6 467.0,251.6 467.6,251.5C468.2,251.4 469.5,249.4 470.0,248.9C470.5,248.4 471.5,246.8 472.0,246.9C472.5,247.0 473.5,250.2 474.0,249.9C474.5,249.6 475.4,245.6 476.0,243.9C476.6,242.2 478.3,236.7 479.0,235.5C479.7,234.3 481.0,233.3 481.6,233.5C482.2,233.7 483.5,236.0 484.0,236.9C484.5,237.8 485.4,240.1 486.0,240.9C486.6,241.7 488.3,243.8 488.9,243.5C489.5,243.2 490.4,239.5 490.9,237.9C491.4,236.3 492.9,230.7 493.5,229.5C494.1,228.3 495.3,227.6 495.9,227.9C496.5,228.2 498.2,230.8 498.9,231.9C499.6,233.0 501.2,236.3 501.9,237.5C502.6,238.7 504.3,241.2 504.9,242.3C505.5,243.4 506.4,245.7 506.9,246.9C507.4,248.1 508.8,251.7 509.5,252.3C510.2,252.9 512.2,252.3 512.9,252.3C513.6,252.3 515.2,252.5 515.9,251.9C516.6,251.3 518.2,247.8 518.9,247.5C519.6,247.2 521.3,248.3 521.9,248.9C522.5,249.5 523.7,251.7 524.3,252.3C524.9,252.9 526.2,254.2 526.9,254.3C527.6,254.4 529.2,254.0 529.9,253.5C530.6,253.0 532.2,251.3 532.9,249.9C533.6,248.5 535.4,242.2 536.2,241.5C537.0,240.8 539.0,243.0 539.8,243.5C540.6,244.0 542.7,245.0 543.4,245.5C544.1,246.0 545.6,248.1 546.2,247.9C546.8,247.7 547.7,244.5 548.2,243.5C548.7,242.5 550.1,239.4 550.8,239.5C551.5,239.6 553.1,244.1 553.8,244.3C554.5,244.5 556.1,241.6 556.8,240.9C557.5,240.2 559.4,238.1 560.0,237.9C560.6,237.7 561.4,239.6 562.0,238.9C562.6,238.2 564.3,233.5 565.0,232.3C565.7,231.1 567.3,229.5 568.0,228.9C568.7,228.3 570.0,226.9 570.6,226.9C571.2,226.9 572.5,228.8 573.0,228.9C573.5,229.0 574.5,228.1 575.0,227.5C575.5,226.9 576.9,223.9 577.4,223.5C577.9,223.1 578.6,223.3 579.0,224.3C579.4,225.3 580.4,230.3 581.0,231.9C581.6,233.5 583.4,237.8 584.0,238.3C584.6,238.8 585.5,236.6 586.0,236.3C586.5,236.0 587.5,236.1 588.0,235.9C588.5,235.7 589.6,234.6 590.0,234.9C590.4,235.2 590.8,237.8 591.3,238.3C591.8,238.8 593.2,238.3 593.9,238.9C594.6,239.5 596.2,242.8 596.9,243.5C597.6,244.2 599.3,244.9 599.9,244.9C600.5,244.9 601.4,245.3 601.9,243.9C602.4,242.5 603.4,234.8 603.9,232.9C604.4,231.0 605.4,227.9 605.9,227.5C606.4,227.1 607.9,228.5 608.5,229.5C609.1,230.5 610.3,234.4 610.9,235.9C611.5,237.4 613.2,241.2 613.9,242.3C614.6,243.4 615.9,245.3 616.5,244.9C617.1,244.5 618.3,241.2 618.9,238.9C619.5,236.6 621.2,227.3 621.9,224.9C622.6,222.5 624.5,218.8 625.3,218.5C626.1,218.2 627.9,220.6 628.5,221.9C629.1,223.2 630.2,227.7 630.8,229.9C631.4,232.1 633.1,239.2 633.8,240.9C634.5,242.7 635.7,244.7 636.4,244.9C637.1,245.1 639.1,243.2 639.8,242.9C640.5,242.6 642.1,241.7 642.8,241.9C643.5,242.1 645.1,244.5 645.8,244.9C646.5,245.3 648.1,245.2 648.8,245.5C649.5,245.8 651.3,247.1 651.8,247.5C652.3,247.9 653.0,251.9 653.4,248.9C653.8,245.9 654.6,226.2 655.0,221.9C655.4,217.6 656.5,212.7 657.0,212.3C657.5,212.0 658.6,216.4 659.0,218.9C659.4,221.4 660.2,233.2 660.6,233.9C661.0,234.6 661.7,229.8 662.0,224.9C662.3,220.0 663.1,201.9 663.4,192.0C663.7,182.1 664.3,151.3 664.6,140.0C664.9,128.7 665.7,104.3 666.0,95.0C666.3,85.7 666.9,68.1 667.1,60.0C667.3,51.9 667.7,25.3 668.1,25.3C668.5,25.3 669.9,51.9 670.5,60.0C671.1,68.1 672.6,85.7 673.0,95.0C673.4,104.3 673.9,130.1 674.1,140.0C674.3,149.9 674.7,171.8 675.0,180.0C675.3,188.2 676.0,202.3 676.5,210.0C677.0,217.7 678.7,241.2 679.3,245.9C679.9,250.6 681.2,248.7 681.9,249.9C682.6,251.1 684.8,255.8 685.5,256.2C686.2,256.6 687.2,254.9 687.9,253.5C688.6,252.1 690.4,246.3 691.3,243.9C692.2,241.5 694.6,233.7 695.3,232.9C696.0,232.1 696.8,235.7 697.3,236.9C697.8,238.1 698.8,242.6 699.3,242.9C699.8,243.2 701.3,239.7 701.9,239.5C702.5,239.3 703.9,240.5 704.5,241.5C705.1,242.5 706.3,247.2 706.9,247.9C707.5,248.6 708.7,249.1 709.3,247.9C709.9,246.7 711.2,241.1 711.9,237.9C712.6,234.8 714.7,222.7 715.3,220.9C715.9,219.1 716.9,221.0 717.3,222.3C717.7,223.6 718.5,228.7 718.9,231.9C719.2,235.1 719.8,247.3 720.3,249.4C720.8,251.5 722.5,250.1 723.0,249.9C723.5,249.7 724.3,248.9 724.8,247.6C725.3,246.3 726.7,241.3 727.4,238.8C728.1,236.3 730.3,227.9 731.0,226.3C731.7,224.7 733.0,225.4 733.6,225.1C734.2,224.8 735.7,223.3 736.3,223.3C736.9,223.3 738.3,224.6 738.9,225.1C739.5,225.6 740.7,227.8 741.2,227.6C741.7,227.4 742.9,225.6 743.4,223.7C743.9,221.8 745.0,214.6 745.5,211.3C746.0,208.0 746.7,202.1 747.8,195.3C748.9,188.5 753.7,159.8 754.9,152.6C756.1,145.4 757.7,137.1 758.4,133.9C759.1,130.7 760.1,125.4 760.7,125.0C761.3,124.6 763.1,126.2 763.8,130.4C764.5,134.6 765.7,155.9 766.4,161.4C767.1,166.9 769.3,174.3 770.0,177.4C770.7,180.5 772.0,188.8 772.6,188.0C773.2,187.2 774.7,175.7 775.3,170.3C775.9,164.9 777.4,147.9 778.0,141.9C778.6,135.9 779.7,121.6 780.2,119.2C780.7,116.8 782.0,119.5 782.7,121.5C783.4,123.5 785.1,132.6 785.9,136.6C786.7,140.6 788.8,152.3 789.5,156.1C790.2,159.9 791.3,167.4 791.8,169.5C792.3,171.6 793.5,174.3 793.9,174.5C794.3,174.7 794.9,172.2 795.3,171.3C795.7,170.4 797.0,167.1 797.4,166.8C797.8,166.5 798.6,167.6 798.9,168.6C799.2,169.6 799.9,174.6 800.3,175.7C800.7,176.8 801.9,177.7 802.4,178.4C802.9,179.1 803.8,180.9 804.2,181.9C804.6,182.9 805.2,186.1 805.6,187.2C806.0,188.3 807.3,191.0 807.7,191.7C808.1,192.4 808.7,194.2 809.1,193.4C809.5,192.6 810.7,187.0 811.3,184.6C811.9,182.2 813.3,175.3 813.9,173.0C814.5,170.7 816.0,165.1 816.6,165.1C817.2,165.1 818.2,171.3 818.7,173.0C819.2,174.7 820.5,178.1 821.0,179.8C821.5,181.5 822.8,185.6 823.3,187.2C823.8,188.8 825.0,192.4 825.5,193.4C826.0,194.4 826.7,195.8 827.2,195.7C827.7,195.6 829.3,194.0 829.9,192.6C830.5,191.2 832.0,185.2 832.6,183.7C833.2,182.2 834.2,179.9 834.7,180.1C835.2,180.3 836.5,184.0 837.0,185.5C837.5,187.0 838.8,191.3 839.3,192.6C839.8,193.9 840.9,196.9 841.4,197.0C841.9,197.1 843.0,193.9 843.5,193.4C844.0,192.9 845.4,193.1 845.9,192.6C846.4,192.1 847.2,189.3 847.6,189.4C848.0,189.5 849.0,193.1 849.4,193.4C849.8,193.7 850.7,192.3 851.2,192.2C851.7,192.1 852.9,192.6 853.5,192.6C854.1,192.6 855.5,193.4 856.0,192.6C856.5,191.8 857.3,186.2 857.7,185.5C858.1,184.8 859.1,186.5 859.5,186.9C859.9,187.3 860.5,188.6 860.9,188.7C861.3,188.8 862.2,187.9 862.7,188.1C863.2,188.3 864.6,190.0 865.4,190.8C866.2,191.6 869.0,193.5 869.9,194.9C870.8,196.3 872.6,201.0 873.5,202.7C874.4,204.4 876.4,210.4 877.7,209.5C879.0,208.6 883.2,195.8 884.5,194.9C885.8,194.0 887.9,200.0 888.9,201.5C889.9,203.0 891.9,210.8 893.0,208.0C894.1,205.2 897.7,181.2 898.7,177.8C899.7,174.4 900.7,177.6 901.6,178.8C902.5,180.0 905.2,190.0 906.5,188.5C907.8,187.0 911.3,168.1 912.6,166.1C913.9,164.1 916.4,171.4 917.4,171.5C918.4,171.6 920.4,169.8 921.1,167.3C921.8,164.8 922.8,153.0 923.5,150.2C924.2,147.4 926.4,143.4 927.2,143.7C928.0,144.0 929.6,151.7 930.4,152.7C931.2,153.7 932.9,155.4 933.8,152.0C934.7,148.6 936.9,125.5 937.7,123.4C938.5,121.3 939.8,131.7 940.6,134.4C941.4,137.1 943.3,144.6 944.3,146.6C945.3,148.6 948.5,150.9 949.1,151.5" fill="none" stroke="#f1be70" stroke-width="1.85" stroke-linejoin="round" stroke-linecap="round"/>
<path d="M87.0,334.9C87.3,334.9 89.3,335.0 90.0,334.9C90.7,334.8 92.3,334.2 93.0,333.9C93.7,333.5 95.0,332.7 95.6,331.9C96.2,331.1 97.5,328.2 98.0,327.3C98.5,326.4 99.5,324.8 100.0,324.5C100.5,324.2 101.8,324.6 102.4,324.9C103.0,325.2 104.4,327.1 105.0,327.3C105.6,327.5 106.9,326.6 107.5,326.5C108.1,326.4 109.3,326.3 109.9,326.5C110.5,326.7 111.8,328.1 112.3,327.9C112.8,327.7 113.6,325.7 114.3,324.5C115.0,323.3 117.1,319.6 117.9,317.9C118.7,316.2 120.2,310.4 120.9,309.9C121.6,309.4 123.2,312.6 123.9,313.3C124.6,314.0 126.2,316.4 126.9,315.9C127.6,315.4 129.3,309.7 129.9,308.9C130.5,308.1 131.6,309.3 132.3,308.9C133.0,308.5 135.0,305.3 135.9,305.3C136.8,305.3 139.0,307.8 139.9,308.5C140.8,309.2 142.7,311.2 143.5,311.3C144.3,311.4 146.1,309.1 146.9,309.3C147.7,309.5 149.5,313.2 150.3,313.3C151.1,313.4 153.1,311.1 153.9,310.5C154.7,309.9 156.2,308.9 156.8,307.9C157.4,306.9 158.3,302.7 158.8,301.9C159.3,301.1 160.3,301.4 160.8,300.9C161.3,300.4 162.2,298.9 162.8,297.9C163.4,296.9 165.2,292.8 165.8,292.6C166.4,292.4 167.6,294.7 168.2,296.0C168.8,297.3 170.2,303.3 170.8,303.9C171.4,304.5 172.8,301.9 173.4,300.9C174.0,299.9 175.2,295.2 175.8,295.0C176.4,294.8 178.0,298.8 178.6,299.4C179.2,300.0 180.4,300.6 181.0,300.0C181.6,299.4 182.8,295.3 183.4,294.0C184.0,292.7 185.5,289.3 186.0,288.6C186.5,287.9 187.5,287.8 188.0,288.0C188.5,288.2 189.5,290.1 190.0,290.0C190.5,289.9 191.5,287.6 192.0,287.0C192.5,286.4 193.5,284.8 194.0,285.0C194.5,285.2 196.0,287.6 196.6,289.0C197.2,290.4 198.5,295.8 199.0,296.6C199.5,297.4 200.5,296.8 201.0,296.0C201.5,295.2 202.6,291.0 203.0,290.0C203.4,289.0 204.0,286.9 204.5,287.4C205.0,287.9 206.3,292.8 206.9,294.0C207.5,295.2 209.2,297.1 209.9,297.4C210.6,297.7 212.4,296.8 212.9,296.6C213.4,296.4 214.1,295.1 214.5,295.4C214.9,295.7 216.0,298.9 216.5,299.0C217.0,299.1 218.3,296.5 218.9,296.0C219.5,295.5 221.2,295.8 221.9,295.0C222.6,294.2 224.7,289.8 225.3,289.4C225.9,289.0 226.8,291.1 227.3,292.0C227.8,292.9 228.8,296.4 229.3,297.0C229.8,297.6 231.4,297.2 231.9,297.0C232.4,296.8 233.4,295.1 233.9,295.0C234.4,294.9 235.3,295.6 235.9,296.0C236.5,296.4 238.2,297.8 238.9,298.6C239.6,299.4 241.2,301.9 241.9,302.9C242.6,303.9 243.9,306.5 244.5,306.9C245.1,307.2 246.3,305.9 246.9,305.9C247.5,305.9 248.7,306.7 249.3,307.3C249.9,307.9 251.3,311.1 251.8,311.3C252.3,311.5 253.3,309.9 253.8,309.3C254.3,308.7 255.3,306.3 255.8,306.5C256.3,306.7 257.7,309.8 258.4,310.9C259.1,312.0 261.1,314.1 261.8,315.9C262.5,317.6 263.9,323.8 264.4,325.9C264.9,328.0 265.9,332.1 266.4,333.9C266.9,335.6 268.3,340.9 268.8,340.9C269.3,340.9 270.3,335.8 270.8,333.9C271.3,332.0 272.4,325.9 272.8,324.5C273.2,323.1 273.6,321.7 274.0,321.9C274.4,322.1 275.5,325.2 276.0,325.9C276.5,326.6 277.5,327.2 278.0,327.9C278.5,328.6 279.5,331.2 280.0,331.9C280.5,332.6 281.9,333.1 282.4,333.9C282.9,334.7 284.0,337.7 284.4,338.5C284.8,339.3 285.6,341.4 286.0,340.9C286.4,340.4 287.6,335.8 288.0,333.9C288.4,332.0 289.1,325.6 289.6,324.5C290.1,323.4 291.5,324.4 292.0,324.9C292.5,325.4 293.5,328.6 294.0,328.5C294.5,328.4 295.5,324.6 296.0,323.9C296.5,323.2 297.3,322.1 297.9,322.5C298.5,322.9 300.2,326.9 300.9,326.9C301.6,326.9 303.3,323.2 303.9,322.5C304.5,321.8 305.4,321.7 305.9,321.3C306.4,320.9 307.7,319.0 308.3,319.3C308.9,319.6 310.2,323.3 310.9,323.9C311.6,324.5 313.3,323.9 313.9,324.5C314.5,325.1 315.7,328.0 316.3,329.3C316.9,330.6 318.3,335.5 318.9,335.3C319.5,335.1 320.9,328.3 321.5,327.9C322.1,327.5 323.3,331.7 323.9,331.9C324.5,332.1 326.3,329.3 326.9,329.3C327.5,329.3 328.4,330.5 328.9,331.9C329.4,333.3 330.4,340.3 330.9,340.9C331.4,341.5 333.0,337.2 333.5,336.9C334.0,336.6 335.0,337.8 335.5,338.5C336.0,339.2 337.3,343.0 337.9,343.3C338.5,343.6 340.2,341.2 340.9,340.9C341.6,340.6 343.3,340.5 343.9,340.9C344.5,341.2 345.6,342.5 346.2,343.9C346.8,345.3 348.7,352.0 349.4,352.8C350.1,353.6 351.2,350.0 351.8,350.5C352.4,351.0 354.1,356.0 354.8,357.2C355.5,358.4 357.1,360.9 357.8,360.8C358.5,360.7 360.2,357.1 360.8,356.4C361.4,355.7 362.3,354.6 362.8,354.4C363.3,354.2 364.3,355.3 364.8,354.8C365.3,354.3 366.5,351.1 367.0,349.9C367.5,348.7 368.5,344.6 369.0,344.5C369.5,344.4 370.5,348.7 371.0,348.9C371.5,349.1 372.5,346.7 373.0,345.9C373.5,345.1 374.7,342.5 375.4,341.9C376.1,341.3 377.9,341.1 378.6,340.5C379.3,339.9 380.8,337.0 381.4,336.9C382.0,336.8 383.3,339.1 384.0,339.3C384.7,339.5 386.3,339.5 387.0,338.9C387.7,338.3 389.3,334.8 390.0,333.9C390.7,333.0 392.3,332.0 393.0,331.3C393.7,330.6 395.3,328.2 395.9,327.9C396.5,327.6 397.4,328.0 397.9,328.5C398.4,329.0 399.3,332.8 399.9,332.5C400.5,332.2 402.2,328.1 402.9,325.9C403.6,323.7 405.3,314.2 405.9,313.3C406.5,312.4 407.4,316.5 407.9,317.9C408.4,319.3 409.9,324.8 410.5,325.3C411.1,325.8 412.7,322.1 413.3,321.9C413.9,321.7 415.4,322.3 415.9,323.9C416.4,325.5 417.3,334.0 417.9,335.9C418.5,337.8 420.3,339.6 420.9,339.9C421.5,340.2 422.7,338.5 423.3,338.5C423.9,338.5 425.3,339.4 425.9,339.9C426.5,340.4 427.9,341.7 428.5,342.9C429.1,344.1 430.3,348.6 430.9,349.9C431.5,351.2 433.2,353.3 433.9,353.8C434.6,354.3 436.2,354.8 436.9,354.4C437.6,354.0 439.2,351.4 439.9,350.8C440.6,350.2 442.1,349.2 442.8,348.9C443.5,348.6 445.1,348.8 445.8,347.9C446.5,347.0 447.9,342.4 448.4,340.9C448.9,339.4 449.9,335.1 450.4,334.9C450.9,334.7 452.2,338.9 452.8,339.3C453.4,339.7 454.6,337.7 455.2,337.9C455.8,338.1 457.2,341.1 457.8,341.3C458.4,341.5 459.9,339.8 460.4,339.3C460.9,338.8 461.9,337.8 462.4,337.3C462.9,336.8 463.8,335.1 464.4,335.3C465.0,335.5 466.8,339.2 467.6,338.9C468.4,338.6 470.3,333.3 471.0,332.5C471.7,331.7 473.0,332.3 473.6,331.9C474.2,331.5 475.4,329.0 476.0,328.9C476.6,328.8 477.8,331.1 478.4,331.3C479.0,331.5 480.5,330.3 481.0,330.5C481.5,330.7 482.5,331.6 483.0,332.9C483.5,334.2 484.9,340.6 485.5,341.3C486.1,342.0 487.3,339.2 487.9,338.5C488.5,337.8 490.3,335.4 490.9,334.9C491.5,334.4 492.4,333.6 492.9,333.9C493.4,334.2 494.4,335.8 494.9,337.3C495.4,338.8 496.9,345.6 497.5,346.9C498.1,348.2 499.3,348.8 499.9,348.5C500.5,348.2 501.8,344.6 502.3,344.5C502.8,344.4 503.8,346.4 504.3,347.3C504.8,348.2 506.4,352.0 506.9,351.8C507.4,351.6 508.4,346.4 508.9,345.9C509.4,345.4 510.4,347.9 510.9,347.9C511.4,347.9 512.4,346.1 512.9,345.9C513.4,345.7 514.9,346.1 515.5,346.5C516.1,346.9 517.3,348.3 517.9,348.9C518.5,349.5 520.3,351.2 520.9,351.4C521.5,351.6 522.3,350.8 522.9,350.5C523.5,350.2 525.2,348.8 525.9,348.5C526.6,348.2 528.1,347.9 528.9,347.9C529.7,347.9 532.1,349.0 532.9,348.5C533.7,348.0 535.1,344.4 535.8,343.9C536.5,343.4 538.1,344.7 538.8,344.5C539.5,344.3 541.1,343.0 541.8,342.5C542.5,342.0 544.1,340.4 544.8,339.9C545.5,339.4 547.1,339.0 547.8,338.5C548.5,338.0 550.1,335.8 550.8,335.3C551.5,334.8 553.1,334.5 553.8,334.5C554.5,334.5 556.3,335.0 556.8,334.9C557.3,334.8 557.5,333.6 558.0,333.3C558.5,333.0 560.3,332.8 561.0,332.5C561.7,332.2 563.4,331.3 564.0,330.9C564.6,330.5 565.4,329.3 566.0,329.3C566.6,329.3 568.4,330.4 569.0,330.5C569.6,330.6 570.9,329.6 571.4,329.9C571.9,330.2 572.9,332.9 573.4,332.9C573.9,332.9 575.5,329.9 576.0,329.9C576.5,329.9 577.5,331.9 578.0,332.9C578.5,333.9 579.9,337.4 580.5,338.5C581.1,339.6 582.4,341.3 583.0,341.9C583.6,342.5 585.3,343.0 585.9,343.3C586.5,343.6 587.9,344.0 588.5,344.5C589.1,345.0 590.4,346.8 590.9,347.3C591.4,347.8 592.4,348.7 592.9,348.5C593.4,348.3 594.4,346.4 594.9,345.9C595.4,345.4 596.4,344.6 596.9,344.5C597.4,344.4 598.7,345.3 599.3,345.3C599.9,345.3 601.4,344.4 601.9,344.9C602.4,345.4 603.3,348.9 603.9,349.9C604.5,350.9 606.1,352.8 606.9,353.8C607.7,354.8 609.8,358.6 610.5,358.8C611.2,359.0 612.6,356.6 613.3,355.8C614.0,355.0 615.7,352.7 616.5,351.8C617.3,350.9 619.0,348.8 619.9,347.9C620.8,347.0 623.0,344.7 623.9,343.9C624.8,343.1 627.1,341.8 627.9,341.3C628.7,340.8 630.1,339.7 630.8,339.3C631.5,338.9 633.1,338.3 633.8,337.9C634.5,337.5 636.2,336.4 636.8,335.9C637.4,335.4 638.5,334.1 639.2,333.9C639.9,333.7 641.7,333.5 642.4,333.9C643.1,334.2 644.1,336.3 644.8,336.9C645.5,337.5 647.7,338.6 648.4,339.3C649.1,340.0 650.3,342.2 650.8,342.9C651.3,343.6 651.9,344.5 652.4,345.3C652.9,346.1 654.4,350.6 655.0,349.9C655.6,349.2 657.1,339.3 657.6,339.3C658.1,339.3 659.1,347.6 659.6,349.9C660.1,352.2 661.1,357.6 661.6,358.8C662.1,360.0 663.5,359.9 664.0,360.4C664.5,360.9 665.5,364.0 666.0,362.8C666.5,361.6 667.5,352.5 668.0,349.9C668.5,347.3 670.0,341.3 670.6,340.5C671.2,339.7 672.5,342.0 673.0,342.9C673.5,343.8 674.5,346.5 675.0,347.9C675.5,349.3 676.5,353.1 677.0,354.8C677.5,356.5 678.9,361.9 679.5,362.8C680.1,363.7 681.2,363.0 681.9,362.8C682.6,362.6 684.8,361.8 685.5,361.2C686.2,360.6 687.6,358.8 688.3,357.8C689.0,356.8 690.8,352.8 691.5,352.4C692.2,352.0 693.3,353.8 693.9,354.4C694.5,355.0 696.2,357.3 696.9,357.2C697.6,357.1 698.9,354.4 699.5,353.8C700.1,353.2 701.3,352.2 701.9,351.8C702.5,351.4 704.3,350.7 704.9,350.8C705.5,350.9 706.3,352.4 706.9,352.8C707.5,353.2 709.3,354.7 709.9,354.4C710.5,354.1 711.7,350.5 712.3,349.9C712.9,349.3 714.3,349.5 714.9,349.3C715.5,349.1 716.9,348.2 717.5,348.5C718.1,348.8 719.3,351.5 719.9,351.8C720.5,352.1 721.7,351.3 722.3,350.8C722.9,350.3 724.8,347.5 725.4,347.3C726.0,347.1 727.2,349.2 727.8,349.3C728.4,349.4 730.1,348.4 730.8,347.9C731.5,347.4 733.1,345.7 733.8,345.3C734.5,344.9 736.1,344.5 736.8,344.5C737.5,344.5 738.8,345.0 739.4,344.9C740.0,344.8 741.3,343.7 741.8,343.3C742.3,342.9 743.3,341.9 743.8,341.3C744.3,340.7 745.3,338.5 745.8,337.9C746.3,337.3 747.4,336.0 748.0,335.9C748.6,335.8 750.0,336.4 750.6,336.9C751.2,337.4 752.8,339.7 753.4,339.9C754.0,340.1 755.3,339.0 756.0,338.9C756.7,338.8 758.4,338.9 759.0,338.9C759.6,338.9 760.9,338.9 761.4,338.5C761.9,338.1 762.9,336.5 763.4,335.9C763.9,335.3 764.9,333.2 765.4,333.3C765.9,333.4 767.5,336.3 768.0,336.5C768.5,336.7 769.5,335.2 770.0,335.3C770.5,335.4 771.9,337.3 772.5,337.3C773.1,337.3 774.3,335.3 774.9,334.9C775.5,334.5 776.7,334.2 777.3,333.9C777.9,333.6 779.2,332.6 779.9,332.5C780.6,332.4 782.2,332.7 782.9,332.9C783.6,333.1 785.2,333.6 785.9,333.9C786.6,334.2 788.5,335.3 789.3,335.3C790.1,335.3 792.1,334.4 792.9,333.9C793.7,333.4 795.2,331.8 795.9,330.9C796.6,330.0 798.3,327.1 798.9,325.9C799.5,324.7 800.6,321.6 801.3,320.5C802.0,319.4 803.8,317.0 804.5,316.9C805.2,316.8 806.4,319.4 806.9,319.9C807.4,320.4 808.4,321.5 808.9,321.3C809.4,321.1 810.4,318.0 810.9,317.9C811.4,317.8 812.7,320.1 813.3,320.5C813.9,320.9 815.3,321.0 815.9,320.9C816.5,320.8 817.9,319.8 818.5,319.3C819.1,318.8 820.3,317.1 820.8,316.5C821.3,315.9 822.7,314.6 823.2,314.5C823.7,314.4 824.3,315.3 824.8,315.9C825.3,316.5 826.6,319.5 827.2,319.9C827.8,320.2 829.0,319.1 829.8,318.9C830.6,318.7 833.0,319.0 833.8,318.5C834.6,318.0 836.1,315.4 836.8,314.9C837.5,314.4 839.1,314.4 839.8,314.5C840.5,314.6 842.2,315.3 843.0,315.9C843.8,316.5 846.2,319.9 847.0,319.9C847.8,319.9 849.2,316.8 850.0,315.9C850.8,315.0 852.8,312.0 853.6,311.9C854.4,311.8 856.1,314.1 857.0,314.9C857.9,315.7 860.2,318.9 861.0,318.5C861.8,318.1 863.4,312.8 864.0,311.9C864.6,311.0 865.5,310.8 866.0,310.9C866.5,311.0 867.5,312.4 868.0,312.9C868.5,313.4 869.7,314.9 870.3,314.9C870.9,314.9 872.2,313.7 872.9,313.3C873.6,312.9 875.2,312.4 875.9,311.9C876.6,311.4 878.2,310.0 878.9,309.3C879.6,308.6 881.2,306.4 881.9,305.9C882.6,305.4 884.2,305.4 884.9,304.9C885.6,304.4 887.2,301.7 887.9,301.3C888.6,300.9 890.2,301.9 890.9,301.9C891.6,301.9 893.2,301.2 893.9,300.9C894.6,300.6 896.3,299.6 896.9,299.3C897.5,299.0 898.4,298.4 898.9,298.5C899.4,298.6 900.4,300.0 900.9,300.5C901.4,301.0 902.9,302.7 903.5,302.5C904.1,302.3 905.7,299.3 906.3,298.5C906.9,297.7 908.3,296.0 908.9,295.3C909.5,294.6 910.9,293.4 911.5,292.9C912.1,292.4 913.4,291.4 913.9,291.3C914.4,291.2 915.6,292.6 916.2,291.9C916.8,291.2 918.2,286.8 918.8,284.9C919.4,283.0 920.9,276.8 921.4,275.9C921.9,275.0 922.9,277.2 923.4,277.4C923.9,277.6 924.9,276.9 925.4,277.4C925.9,277.9 927.2,281.3 927.8,281.9C928.4,282.5 929.7,282.7 930.2,282.5C930.7,282.3 931.8,280.9 932.2,279.9C932.6,278.9 933.4,275.4 933.8,274.0C934.2,272.6 935.0,268.5 935.4,268.0C935.8,267.5 936.9,268.7 937.4,269.4C937.9,270.1 938.9,273.2 939.4,274.0C939.9,274.8 940.9,276.0 941.4,276.0C941.9,276.0 943.2,274.6 943.8,274.0C944.4,273.4 945.6,271.5 946.2,271.0C946.8,270.5 948.3,270.1 948.8,270.0C949.3,269.9 950.3,269.8 950.8,270.0C951.3,270.2 952.6,271.2 952.8,271.4" fill="none" stroke="#5be577" stroke-width="1.95" stroke-linejoin="round" stroke-linecap="round"/>
</svg>
</body></html>
